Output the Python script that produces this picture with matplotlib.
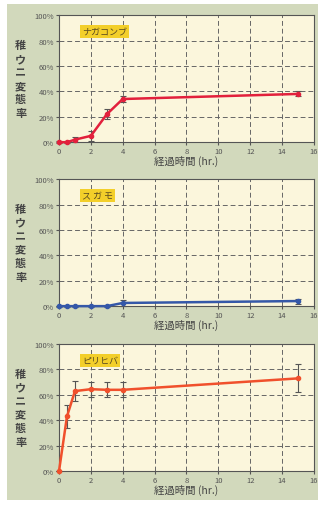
import matplotlib
matplotlib.use("Agg")
import matplotlib.pyplot as plt
from matplotlib.patches import Rectangle
from matplotlib.ticker import FuncFormatter

plt.rcParams['font.family'] = ['Noto Sans CJK JP', 'DejaVu Sans']

hours = [0, 0.5, 1, 2, 3, 4, 15]

species = ["ナガコンブ", "ス ガ モ", "ピリヒバ"]
rate_nagakonbu = [0, 0, 2, 5, 22, 34, 38]
err_nagakonbu = [1, 1, 2, 4, 4, 2, 2]
rate_sugamo = [0, 0, 0, 0, 0, 2.5, 4]
err_sugamo = [0.5, 0.5, 0.5, 0.5, 0.5, 2, 2]
rate_piri = [0, 43, 63, 64.5, 64, 64, 73]
err_piri = [0, 9, 8, 6, 6, 6, 11]

y_ticks = [0, 20, 40, 60, 80, 100]
x_ticks = [0, 2, 4, 6, 8, 10, 12, 14, 16]
ylabel = "稚ウニ変態率"
xlabel = "経過時間 (hr.)"

rates = [rate_nagakonbu, rate_sugamo, rate_piri]
errs = [err_nagakonbu, err_sugamo, err_piri]
colors = ["#e2203c", "#3558a8", "#f0502c"]

fig = plt.figure(figsize=(3.26, 5.06), dpi=100, facecolor="white")
fig.patches.append(Rectangle((0.02, 0.01), 0.955, 0.98, transform=fig.transFigure,
                             facecolor="#d2d9bc", edgecolor="none", zorder=-10))

bottoms = [0.717, 0.393, 0.067]
for i in range(3):
    ax = fig.add_axes([0.181, bottoms[i], 0.782, 0.251])
    ax.set_zorder(1)
    ax.set_facecolor("#fbf6dc")
    ax.set_xlim(0, 16)
    ax.set_ylim(0, 100)
    ax.set_xticks(x_ticks)
    ax.set_yticks(y_ticks)
    ax.yaxis.set_major_formatter(FuncFormatter(lambda v, p: f"{int(v)}%"))
    ax.grid(True, linestyle=(0, (5, 3)), color="#666666", linewidth=0.7)
    ax.tick_params(labelsize=5.5, colors="#555555", length=2, pad=1.5)
    for s in ax.spines.values():
        s.set_color("#555555")
        s.set_linewidth(0.8)
    ax.errorbar(hours, rates[i], yerr=errs[i], color=colors[i], linewidth=1.8,
                marker="o", markersize=3, ecolor="#555555", elinewidth=0.8,
                capsize=2, capthick=0.8, zorder=3, clip_on=False)
    ax.set_xlabel(xlabel, fontsize=7.5, color="#444444", labelpad=0)
    ax.set_ylabel("\n".join(ylabel), fontsize=8, color="#444444", rotation=0,
                  va="center", labelpad=10, linespacing=1.05, fontweight="bold")
    ax.text(0.09, 0.87, species[i], transform=ax.transAxes, fontsize=6.5,
            color="#5a4a20", va="center", ha="left",
            bbox=dict(boxstyle="square,pad=0.25", facecolor="#f3cf2a", edgecolor="none"))

fig.savefig("out.png", dpi=100, facecolor=fig.get_facecolor())
